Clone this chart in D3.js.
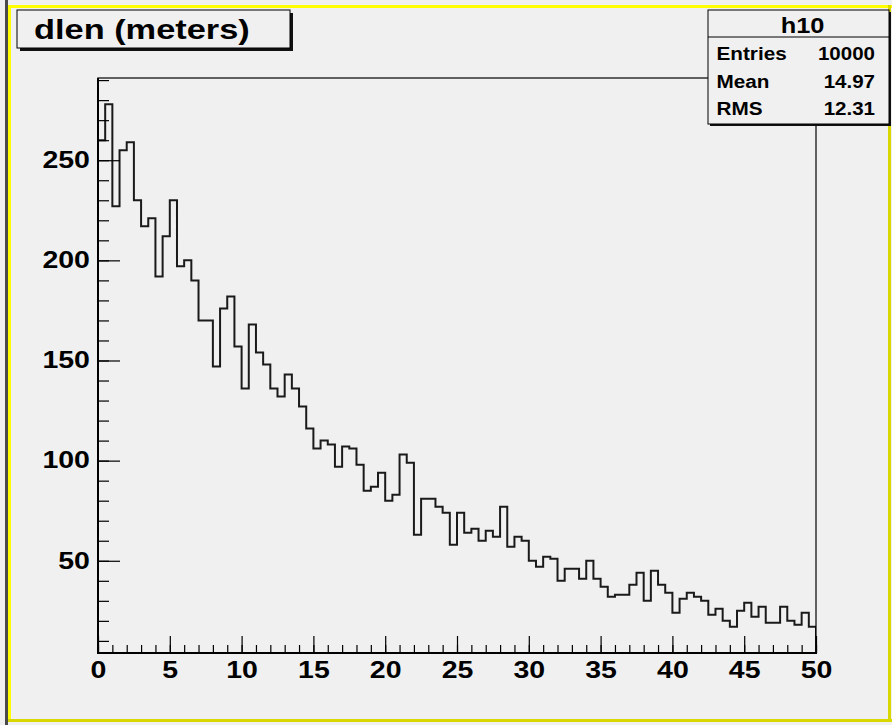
<!DOCTYPE html>
<html>
<head>
<meta charset="utf-8">
<script src="https://cdn.jsdelivr.net/npm/d3@7"></script>
<style>
  body { margin: 0; background: #f0f0f0; }
  svg { display: block; }
  text { font-family: "Liberation Sans", Arial, Helvetica, sans-serif; font-weight: bold; fill: #000; }
</style>
</head>
<body>
<svg id="canvas" width="892" height="725"></svg>
<script>
// h10: 100 bins of dlen between 0 and 50 m
const binCounts = [
  260, 278, 227, 255, 259, 230, 217, 221, 192, 212,
  230, 197, 200, 190, 170, 170, 147, 176, 182, 157,
  136, 168, 154, 148, 136, 132, 143, 136, 127, 116,
  106, 110, 108,  97, 107, 106,  98,  85,  87,  94,
   80,  83, 103,  99,  63,  81,  81,  77,  74,  58,
   74,  64,  66,  60,  65,  62,  77,  57,  62,  60,
   50,  47,  52,  51,  40,  46,  46,  41,  50,  41,
   37,  32,  33,  33,  38,  44,  30,  45,  38,  34,
   24,  31,  34,  32,  30,  23,  26,  20,  17,  25,
   29,  22,  27,  19,  19,  27,  20,  18,  24,  17
];
const xLimits = [0, 50];
const xLabelTicks = [0, 5, 10, 15, 20, 25, 30, 35, 40, 45, 50];
const yLabelTicks = [50, 100, 150, 200, 250];
const titleText = "dlen (meters)";
const statName = "h10";
const statLabels = ["Entries", "Mean", "RMS"];
const statValues = ["10000", "14.97", "12.31"];

const svg = d3.select("#canvas");
const W = 892, H = 725;
const frame = { left: 98, right: 816, top: 78, bottom: 653 };
const stretch = 1.24;   // bitmap Helvetica runs wider than Liberation Sans

// canvas background and coloured border
svg.append("rect").attr("width", W).attr("height", H).attr("fill", "#f0f0f0");
svg.append("rect").attr("x", 5).attr("y", 0).attr("width", 3).attr("height", H).attr("fill", "#4a4a4a");
const yellow = "#ffff00";
svg.append("rect").attr("x", 8).attr("y", 5).attr("width", W - 8).attr("height", 3).attr("fill", yellow);
svg.append("rect").attr("x", 8).attr("y", 5).attr("width", 3).attr("height", 717).attr("fill", yellow);
svg.append("rect").attr("x", 8).attr("y", 719).attr("width", W - 8).attr("height", 3).attr("fill", "#d8d800");
svg.append("rect").attr("x", 888).attr("y", 5).attr("width", 3).attr("height", 717).attr("fill", "#d8d800");

// y range with 5% head room, as the histogram painter does
const cMax = d3.max(binCounts), cMin = d3.min(binCounts);
const margin = 0.05 * (cMax - cMin);
const yLo = cMin - margin, yHi = cMax + margin;

const binWidth = (xLimits[1] - xLimits[0]) / binCounts.length;
const x = d3.scaleLinear().domain(xLimits).range([frame.left, frame.right]);
const y = d3.scaleLinear().domain([yLo, yHi]).range([frame.bottom, frame.top]);

// histogram outline
const pts = [[xLimits[0], yLo]];
binCounts.forEach((c, i) => pts.push([xLimits[0] + i * binWidth, c]));
pts.push([xLimits[1], binCounts[binCounts.length - 1]]);
pts.push([xLimits[1], yLo]);
const stepLine = d3.line().x(d => x(d[0])).y(d => y(d[1])).curve(d3.curveStepAfter);

svg.append("clipPath").attr("id", "plotClip")
  .append("rect").attr("x", frame.left).attr("y", frame.top)
  .attr("width", frame.right - frame.left).attr("height", frame.bottom - frame.top);

svg.append("path")
  .attr("d", stepLine(pts))
  .attr("clip-path", "url(#plotClip)")
  .attr("fill", "none")
  .attr("stroke", "#1a1a1a")
  .attr("stroke-width", 2)
  .attr("stroke-linejoin", "miter");

// y axis: ticks point into the frame, labels sit outside
const yMinor = d3.range(10, yHi, 10);
svg.append("g").attr("transform", `translate(${frame.left},0)`)
  .call(d3.axisRight(y).tickValues(yMinor).tickSize(11).tickFormat(""))
  .call(g => g.select(".domain").remove())
  .call(g => g.selectAll("line").attr("stroke", "#000").attr("stroke-width", 1.2));
svg.append("g").attr("transform", `translate(${frame.left},0)`)
  .call(d3.axisRight(y).tickValues(yLabelTicks).tickSize(22).tickFormat(""))
  .call(g => g.select(".domain").remove())
  .call(g => g.selectAll("line").attr("stroke", "#000").attr("stroke-width", 1.2));
svg.append("g").attr("transform", `translate(${frame.left},0)`)
  .call(d3.axisLeft(y).tickValues(yLabelTicks).tickSize(0).tickPadding(6.5).tickFormat(d3.format("d")))
  .call(g => g.select(".domain").remove())
  .call(g => g.selectAll("text")
    .attr("font-size", 23).attr("font-family", null)
    .attr("transform", `scale(${stretch},1)`));

// x axis
const xMinor = d3.range(xLimits[0], xLimits[1] + 0.5, 1);
svg.append("g").attr("transform", `translate(0,${frame.bottom})`)
  .call(d3.axisTop(x).tickValues(xMinor).tickSize(8).tickFormat(""))
  .call(g => g.select(".domain").remove())
  .call(g => g.selectAll("line").attr("stroke", "#000").attr("stroke-width", 1.2));
svg.append("g").attr("transform", `translate(0,${frame.bottom})`)
  .call(d3.axisTop(x).tickValues(xLabelTicks).tickSize(17).tickFormat(""))
  .call(g => g.select(".domain").remove())
  .call(g => g.selectAll("line").attr("stroke", "#000").attr("stroke-width", 1.2));
svg.append("g").attr("transform", `translate(0,${frame.bottom})`)
  .call(d3.axisBottom(x).tickValues(xLabelTicks).tickSize(0).tickPadding(9).tickFormat(d3.format("d")))
  .call(g => g.select(".domain").remove())
  .call(g => g.selectAll("text")
    .attr("font-size", 23).attr("font-family", null)
    .attr("transform", `scale(${stretch},1)`)
    .attr("x", function(d) { return 0; }));

// frame
svg.append("rect")
  .attr("x", frame.left).attr("y", frame.top)
  .attr("width", frame.right - frame.left).attr("height", frame.bottom - frame.top)
  .attr("fill", "none").attr("stroke", "#000").attr("stroke-width", 1.2);
svg.append("line").attr("x1", frame.left).attr("x2", frame.left)
  .attr("y1", frame.top).attr("y2", frame.bottom + 1).attr("stroke", "#000").attr("stroke-width", 2);
svg.append("line").attr("x1", frame.left - 1).attr("x2", frame.right + 1)
  .attr("y1", frame.bottom).attr("y2", frame.bottom).attr("stroke", "#000").attr("stroke-width", 2);

function label(parent, px, py, str, size, sx, anchor) {
  return parent.append("text")
    .attr("transform", `translate(${px},${py}) scale(${sx},1)`)
    .attr("text-anchor", anchor || "start")
    .attr("font-size", size)
    .text(str);
}

// title box with drop shadow
const tb = { x: 17, y: 10, w: 273, h: 38 };
svg.append("rect").attr("x", tb.x + 3).attr("y", tb.y + 3).attr("width", tb.w).attr("height", tb.h).attr("fill", "#111");
svg.append("rect").attr("x", tb.x).attr("y", tb.y).attr("width", tb.w).attr("height", tb.h)
  .attr("fill", "#f0f0f0").attr("stroke", "#000").attr("stroke-width", 1);
label(svg, 34, 39, titleText, 27.5, 1.25, "start");

// statistics box
const sb = { x: 708, y: 10, w: 181, h: 114, head: 27 };
svg.append("rect").attr("x", sb.x + 2).attr("y", sb.y + 2).attr("width", sb.w).attr("height", sb.h).attr("fill", "#111");
svg.append("rect").attr("x", sb.x).attr("y", sb.y).attr("width", sb.w).attr("height", sb.h)
  .attr("fill", "#f0f0f0").attr("stroke", "#000").attr("stroke-width", 1);
svg.append("line").attr("x1", sb.x).attr("x2", sb.x + sb.w)
  .attr("y1", sb.y + sb.head).attr("y2", sb.y + sb.head).attr("stroke", "#000").attr("stroke-width", 1);
label(svg, sb.x + sb.w / 2 + 4, 33, statName, 21.5, 1.18, "middle");
const rowBase = [60, 88, 115];
statLabels.forEach((s, i) => {
  label(svg, 716.5, rowBase[i], s, 18.5, 1.12, "start");
  label(svg, 875, rowBase[i], statValues[i], 18.5, 1.11, "end");
});
</script>
</body>
</html>
